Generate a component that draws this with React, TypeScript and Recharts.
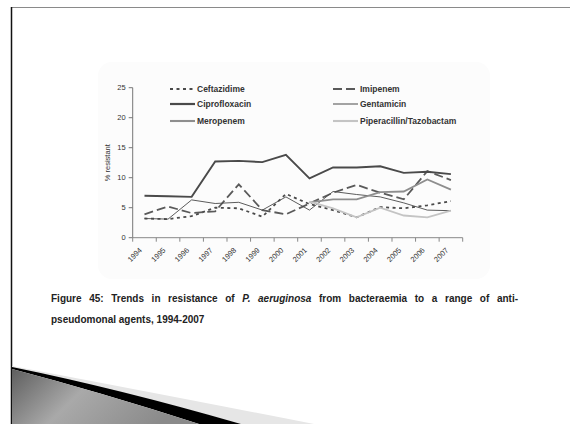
import React from "react";
import { LineChart, Line, XAxis, YAxis } from "recharts";

const years = ["1994","1995","1996","1997","1998","1999","2000","2001","2002","2003","2004","2005","2006","2007"];
const ceftazidime = [3.2, 3.1, 3.6, 5.0, 4.9, 3.5, 7.3, 5.6, 4.6, 3.4, 5.1, 4.9, 5.4, 6.1];
const imipenem = [3.9, 5.2, 4.1, 4.4, 8.9, 4.6, 3.9, 5.7, 7.5, 8.8, 7.5, 6.4, 11.1, 9.6];
const ciprofloxacin = [7.0, 6.9, 6.8, 12.7, 12.8, 12.6, 13.8, 9.9, 11.7, 11.7, 11.9, 10.8, 11.0, 10.6];
const gentamicin = [3.2, 3.1, 6.3, 5.7, 5.9, 4.6, 6.8, 4.6, 7.7, 7.2, 6.8, 5.8, 4.6, 4.5];
const meropenem = [null, null, null, null, null, null, null, 5.9, 6.4, 6.4, 7.6, 7.7, 9.7, 8.0];
const piperacillin = [null, null, null, null, null, null, null, 6.0, 4.9, 3.4, 5.0, 3.7, 3.4, 4.5];
const yTicks = [0, 5, 10, 15, 20, 25];

const data = years.map((y, i) => ({
  year: y,
  ceftazidime: ceftazidime[i],
  imipenem: imipenem[i],
  ciprofloxacin: ciprofloxacin[i],
  gentamicin: gentamicin[i],
  meropenem: meropenem[i],
  piperacillin: piperacillin[i],
}));

const FONT = "'Liberation Sans', Arial, sans-serif";
const PLOT_LEFT = 132.7;
const PLOT_RIGHT = 462.7;
const PLOT_TOP = 87.7;
const PLOT_BOTTOM = 237.7;
const STEP = (PLOT_RIGHT - PLOT_LEFT) / years.length;

const series = [
  { key: "ceftazidime", name: "Ceftazidime", color: "#4a4a4a", width: 1.8, dash: "3 3.5" },
  { key: "imipenem", name: "Imipenem", color: "#5a5a5a", width: 1.8, dash: "9 4" },
  { key: "ciprofloxacin", name: "Ciprofloxacin", color: "#4a4a4a", width: 1.9, dash: undefined },
  { key: "gentamicin", name: "Gentamicin", color: "#4a4a4a", width: 0.9, dash: undefined },
  { key: "meropenem", name: "Meropenem", color: "#8e8e8e", width: 1.8, dash: undefined },
  { key: "piperacillin", name: "Piperacillin/Tazobactam", color: "#c4c4c4", width: 1.8, dash: undefined },
];

const XTick = (props: any) => {
  const { x, payload, index } = props;
  const y0 = PLOT_BOTTOM;
  const last = index === years.length - 1;
  const tx = x - 2;
  const ty = y0 + 13;
  return (
    <g>
      <line x1={x - STEP / 2} x2={x - STEP / 2} y1={y0} y2={y0 + 4} stroke="#888" strokeWidth={1} />
      {last && <line x1={x + STEP / 2} x2={x + STEP / 2} y1={y0} y2={y0 + 4} stroke="#888" strokeWidth={1} />}
      <text
        x={tx}
        y={ty}
        textAnchor="end"
        transform={`rotate(-45 ${tx} ${ty})`}
        fontSize={7.5}
        fontFamily={FONT}
        fill="#333"
      >
        {payload.value}
      </text>
    </g>
  );
};

const LegendItem = ({ s, left, top }: any) => (
  <div style={{ position: "absolute", left, top, height: 12, display: "flex", alignItems: "center" }}>
    <svg width={26} height={12} style={{ display: "block" }}>
      <line x1={0} x2={25} y1={6} y2={6} stroke={s.color} strokeWidth={s.width < 1 ? 1 : s.width + 0.3} strokeDasharray={s.dash} />
    </svg>
    <span style={{ fontFamily: FONT, fontSize: 8.5, fontWeight: "bold", color: "#333", marginLeft: 1, whiteSpace: "nowrap" }}>
      {s.name}
    </span>
  </div>
);

export default function App() {
  const legendLeft = [170, 333];
  const legendTop = [83, 98, 115];
  const legendOrder = [
    [series[0], series[1]],
    [series[2], series[3]],
    [series[4], series[5]],
  ];
  return (
    <div style={{ position: "absolute", left: 0, top: 0, width: 570, height: 424, background: "#fff", overflow: "hidden" }}>
      <svg width={570} height={424} style={{ position: "absolute", left: 0, top: 0 }}>
        <defs>
          <linearGradient id="swoosh" x1="0" y1="0" x2="1" y2="0.3">
            <stop offset="0" stopColor="#5e5e5e" />
            <stop offset="0.45" stopColor="#a9a9a9" />
            <stop offset="1" stopColor="#8a8a8a" />
          </linearGradient>
        </defs>
        <rect x={98} y={62} width={392} height={217} rx={14} fill="#fcfcfc" />
        <line x1={11} x2={570} y1={7.5} y2={7.5} stroke="#8a8a8a" strokeWidth={1.2} />
        <line x1={11.5} x2={11.5} y1={7} y2={424} stroke="#111" strokeWidth={1.5} />
        <path d="M12 366 Q150 392 314 424 L241 424 Q120 390 12 368 Z" fill="#e6e6e6" />
        <path d="M12 367 Q120 389 241 424 L199 424 Q100 392 12 369 Z" fill="#000" />
        <path d="M12 369 Q100 392 199 424 L12 424 Z" fill="url(#swoosh)" />
      </svg>

      <div style={{ position: "absolute", left: 0, top: 0 }}>
        <LineChart
          width={570}
          height={424}
          data={data}
          margin={{ top: PLOT_TOP, right: 570 - PLOT_RIGHT, left: PLOT_LEFT - 40, bottom: 424 - PLOT_BOTTOM - 30 }}
        >
          <XAxis
            dataKey="year"
            height={30}
            interval={0}
            padding={{ left: STEP / 2, right: STEP / 2 }}
            tickLine={false}
            axisLine={{ stroke: "#888", strokeWidth: 1 }}
            tick={<XTick />}
          />
          <YAxis
            width={40}
            domain={[0, 25]}
            ticks={yTicks}
            interval={0}
            tickSize={4}
            tickMargin={3}
            axisLine={{ stroke: "#777", strokeWidth: 1 }}
            tickLine={{ stroke: "#777" }}
            tick={{ fontSize: 7.5, fontFamily: FONT, fill: "#333" }}
            label={{
              value: "% resistant",
              angle: -90,
              position: "insideLeft",
              dx: 10,
              style: { fontSize: 7.5, fontFamily: FONT, fill: "#333", textAnchor: "middle" },
            }}
          />
          {series.map((s) => (
            <Line
              key={s.key}
              type="linear"
              dataKey={s.key}
              name={s.name}
              stroke={s.color}
              strokeWidth={s.width}
              strokeDasharray={s.dash}
              dot={false}
              activeDot={false}
              connectNulls={false}
              isAnimationActive={false}
            />
          ))}
        </LineChart>
      </div>

      {legendOrder.map((row, r) =>
        row.map((s, c) => <LegendItem key={s.key} s={s} left={legendLeft[c]} top={legendTop[r]} />)
      )}

      <div
        style={{
          position: "absolute",
          left: 51,
          top: 288,
          width: 467,
          fontFamily: FONT,
          fontSize: 10,
          fontWeight: "bold",
          color: "#222",
          lineHeight: "21px",
        }}
      >
        <div style={{ textAlign: "justify", textAlignLast: "justify", whiteSpace: "nowrap" as any }}>
          Figure 45: Trends in resistance of <i>P. aeruginosa</i> from bacteraemia to a range of anti-
        </div>
        <div>pseudomonal agents, 1994-2007</div>
      </div>
    </div>
  );
}
